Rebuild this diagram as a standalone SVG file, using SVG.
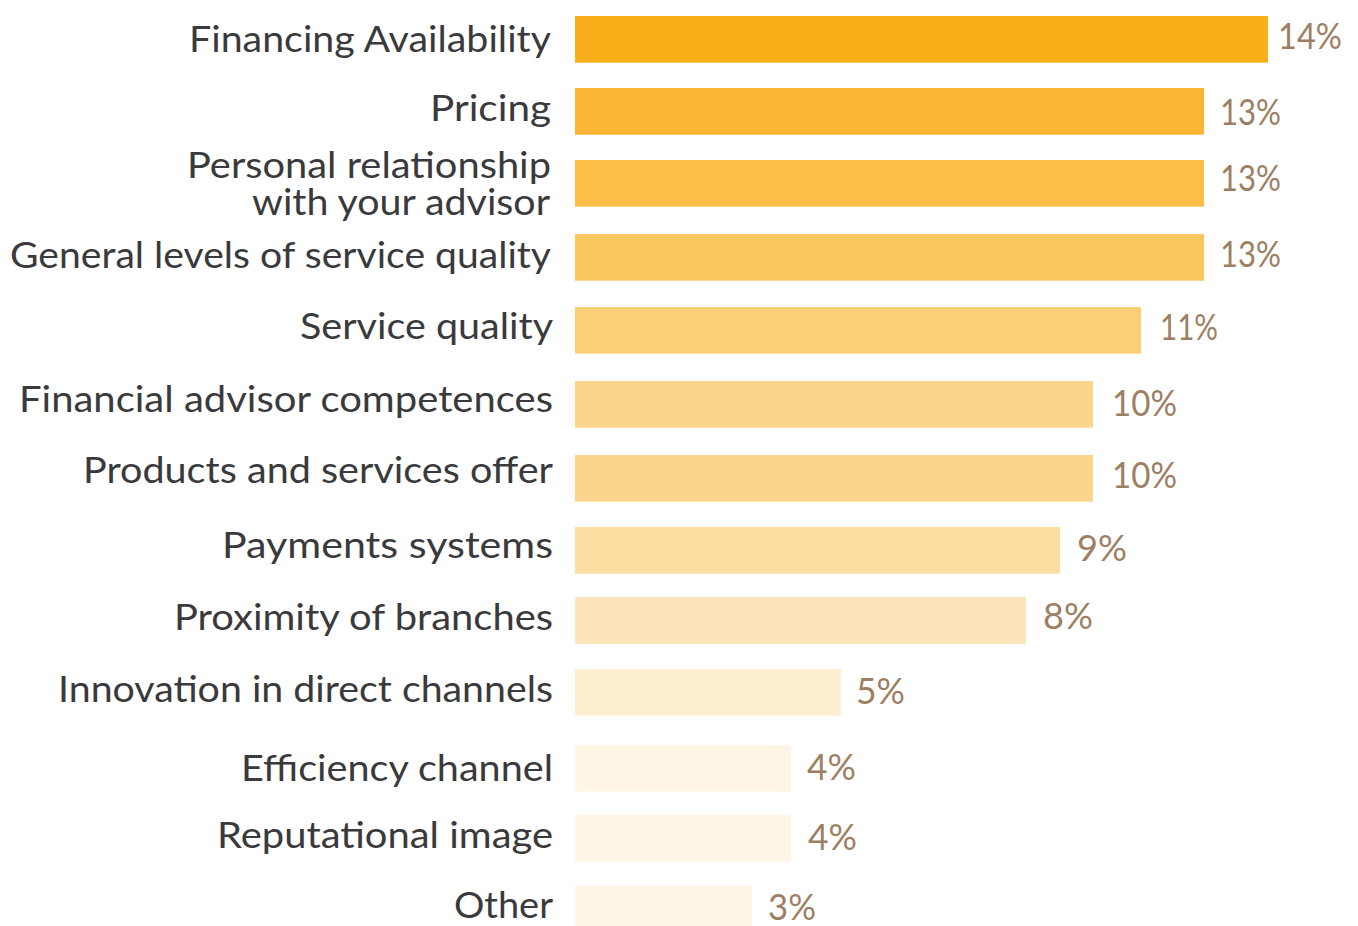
<svg xmlns="http://www.w3.org/2000/svg" width="1358" height="926" viewBox="0 0 1358 926">
<style>
.lbl{font-family:Lato,"Open Sans","Liberation Sans",sans-serif;font-size:37px;fill:#3a3a3c;text-anchor:end}
.pct{font-family:Lato,"Open Sans","Liberation Sans",sans-serif;font-size:37px;font-weight:400;fill:#9d7f63}
</style>
<rect width="1358" height="926" fill="#ffffff"/>
<g id="bar-financing"><rect x="575" y="16" width="693" height="46.7" fill="#f9af1a"/><text class="lbl" x="551" y="52" textLength="362" lengthAdjust="spacingAndGlyphs">Financing Availability</text><text class="pct" x="1278" y="49" textLength="64" lengthAdjust="spacingAndGlyphs">14%</text></g>
<g id="bar-pricing"><rect x="575" y="88" width="629" height="46.7" fill="#fab632"/><text class="lbl" x="551" y="121" textLength="121" lengthAdjust="spacingAndGlyphs">Pricing</text><text class="pct" x="1220" y="125" textLength="61" lengthAdjust="spacingAndGlyphs">13%</text></g>
<g id="bar-personal"><rect x="575" y="160" width="629" height="46.7" fill="#fbbe48"/><text class="lbl" x="551" y="178" textLength="364" lengthAdjust="spacingAndGlyphs">Personal relationship</text><text class="lbl" x="550" y="215" textLength="298" lengthAdjust="spacingAndGlyphs">with your advisor</text><text class="pct" x="1220" y="191" textLength="61" lengthAdjust="spacingAndGlyphs">13%</text></g>
<g id="bar-general"><rect x="575" y="234" width="629" height="46.7" fill="#fac65e"/><text class="lbl" x="551" y="268" textLength="541" lengthAdjust="spacingAndGlyphs">General levels of service quality</text><text class="pct" x="1220" y="267" textLength="61" lengthAdjust="spacingAndGlyphs">13%</text></g>
<g id="bar-service"><rect x="575" y="307" width="566" height="46.7" fill="#fbcf77"/><text class="lbl" x="553" y="339" textLength="253" lengthAdjust="spacingAndGlyphs">Service quality</text><text class="pct" x="1160" y="340" textLength="58" lengthAdjust="spacingAndGlyphs">11%</text></g>
<g id="bar-advisor"><rect x="575" y="381" width="518" height="46.7" fill="#fbd58b"/><text class="lbl" x="553" y="412" textLength="534" lengthAdjust="spacingAndGlyphs">Financial advisor competences</text><text class="pct" x="1112" y="416" textLength="65" lengthAdjust="spacingAndGlyphs">10%</text></g>
<g id="bar-products"><rect x="575" y="455" width="518" height="46.7" fill="#fbd58b"/><text class="lbl" x="553" y="483" textLength="470" lengthAdjust="spacingAndGlyphs">Products and services offer</text><text class="pct" x="1112" y="488" textLength="65" lengthAdjust="spacingAndGlyphs">10%</text></g>
<g id="bar-payments"><rect x="575" y="527" width="485" height="46.7" fill="#fcdea2"/><text class="lbl" x="553" y="558" textLength="331" lengthAdjust="spacingAndGlyphs">Payments systems</text><text class="pct" x="1077" y="561" textLength="50" lengthAdjust="spacingAndGlyphs">9%</text></g>
<g id="bar-proximity"><rect x="575" y="597" width="451" height="46.7" fill="#fce5ba"/><text class="lbl" x="553" y="630" textLength="379" lengthAdjust="spacingAndGlyphs">Proximity of branches</text><text class="pct" x="1043" y="629" textLength="50" lengthAdjust="spacingAndGlyphs">8%</text></g>
<g id="bar-innovation"><rect x="575" y="669" width="266" height="46.7" fill="#fdeed1"/><text class="lbl" x="553" y="702" textLength="495" lengthAdjust="spacingAndGlyphs">Innovation in direct channels</text><text class="pct" x="856" y="704" textLength="49" lengthAdjust="spacingAndGlyphs">5%</text></g>
<g id="bar-efficiency"><rect x="575" y="745" width="216" height="46.7" fill="#fef5e6"/><text class="lbl" x="553" y="781" textLength="312" lengthAdjust="spacingAndGlyphs">Efficiency channel</text><text class="pct" x="807" y="780" textLength="49" lengthAdjust="spacingAndGlyphs">4%</text></g>
<g id="bar-reputational"><rect x="575" y="815" width="216" height="46.7" fill="#fef5e6"/><text class="lbl" x="553" y="848" textLength="336" lengthAdjust="spacingAndGlyphs">Reputational image</text><text class="pct" x="808" y="850" textLength="49" lengthAdjust="spacingAndGlyphs">4%</text></g>
<g id="bar-other"><rect x="575" y="886" width="177" height="46.7" fill="#fef5e6"/><text class="lbl" x="553" y="918" textLength="99" lengthAdjust="spacingAndGlyphs">Other</text><text class="pct" x="768" y="920" textLength="48" lengthAdjust="spacingAndGlyphs">3%</text></g>
</svg>
